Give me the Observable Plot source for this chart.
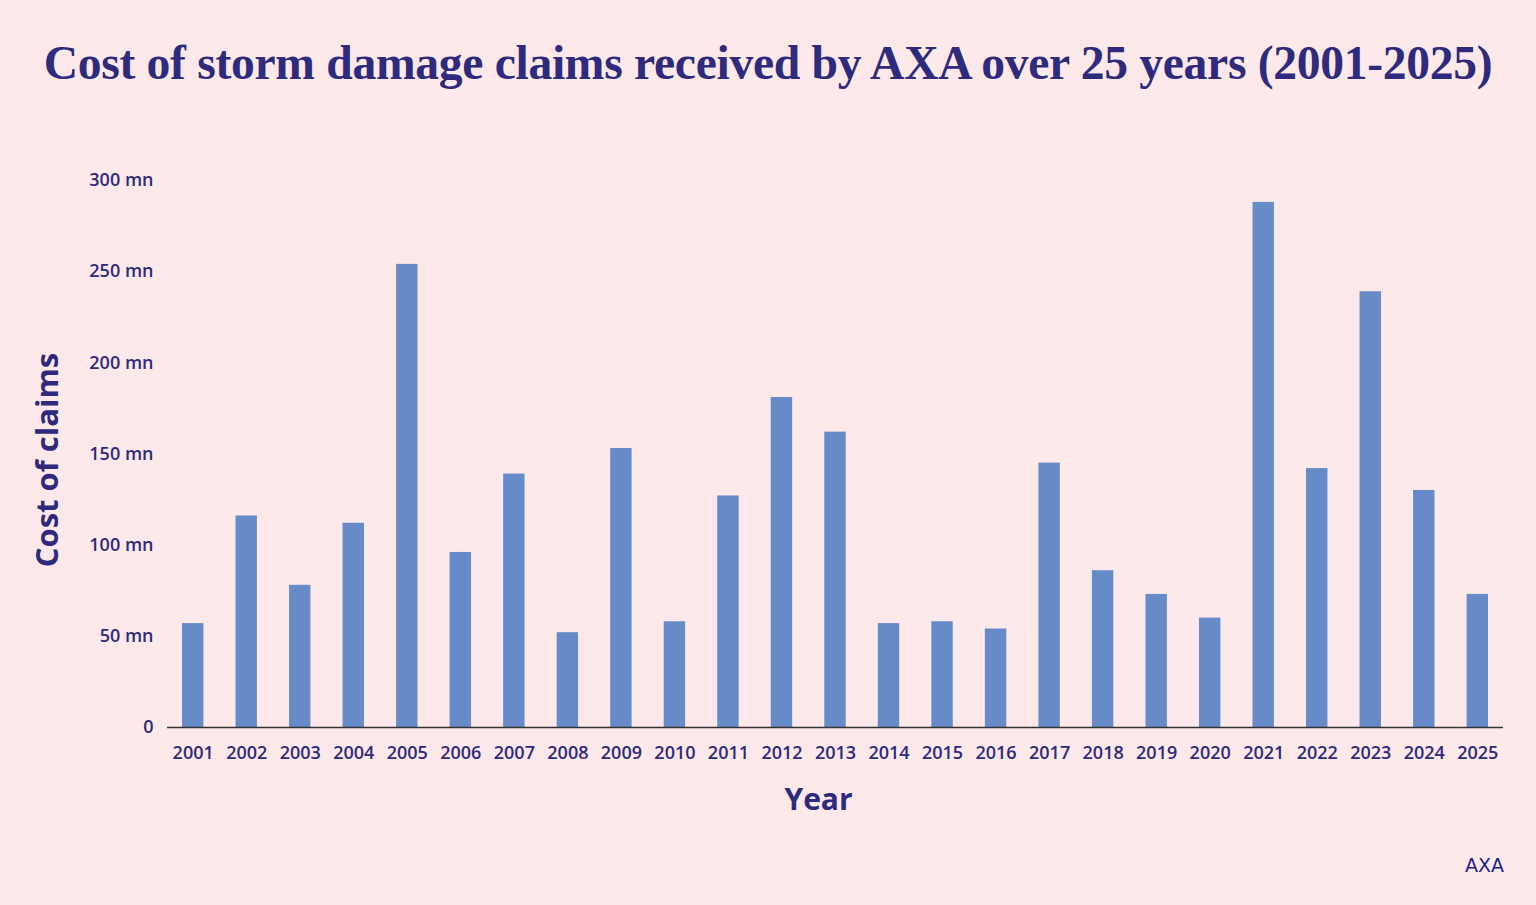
<!DOCTYPE html>
<html>
<head>
<meta charset="utf-8">
<script src="https://cdn.jsdelivr.net/npm/d3@7"></script>
<script src="https://cdn.jsdelivr.net/npm/@observablehq/plot@0.6"></script>
<style>
  html, body { margin: 0; padding: 0; background: #fde9ea; }
  #wrap { position: relative; width: 1536px; height: 905px; overflow: hidden; background: #fde9ea; }
  #title { height: 120px; box-sizing: border-box; padding-top: 38px; line-height: 50px; text-align: center;
    font-family: "Liberation Serif", serif; font-weight: 700; font-size: 47.6px; color: #2e2a7d; letter-spacing: -0.3px; white-space: nowrap; }
  #credit { position: absolute; right: 32px; top: 854px; font-family: "DejaVu Sans", sans-serif; font-size: 19px; color: #1f1d8a; }
</style>
</head>
<body>
<div id="wrap">
  <div id="title">Cost of storm damage claims received by AXA over 25 years (2001-2025)</div>
  <div id="chart"></div>
  <div id="credit">AXA</div>
</div>
<script>
const years = ["2001","2002","2003","2004","2005","2006","2007","2008","2009","2010","2011","2012","2013","2014","2015","2016","2017","2018","2019","2020","2021","2022","2023","2024","2025"];
const costs = [57, 116, 78, 112, 254, 96, 139, 52, 153, 58, 127, 181, 162, 57, 58, 54, 145, 86, 73, 60, 288, 142, 239, 130, 73];
const yTicks = [0, 50, 100, 150, 200, 250, 300];
const yTickLabels = ["0", "50 mn", "100 mn", "150 mn", "200 mn", "250 mn", "300 mn"];
const xTitle = "Year";
const yTitle = "Cost of claims";

const data = years.map((y, i) => ({year: y, cost: costs[i]}));
const ink = "#2e2a7d";
const font = "'Open Sans', sans-serif";

const chart = Plot.plot({
  width: 1536,
  height: 785,
  marginTop: 60,
  marginBottom: 178,
  marginLeft: 167,
  marginRight: 33,
  style: {background: "transparent", fontFamily: font},
  x: {domain: years, paddingInner: 0.6, paddingOuter: 0.28, round: false, label: null},
  y: {domain: [0, 300], label: null},
  marks: [
    Plot.barY(data, {x: "year", y: "cost", fill: "#678bc9"}),
    Plot.ruleY([0], {stroke: "#333", strokeWidth: 1.5}),
    Plot.axisX({tickSize: 0, tickPadding: 19, fontSize: 18, fontWeight: 600, color: ink, label: null}),
    Plot.axisY({ticks: yTicks, tickFormat: (d) => yTickLabels[yTicks.indexOf(d)], tickSize: 0, tickPadding: 14, fontSize: 18, fontWeight: 600, color: ink, label: null}),
    Plot.text([yTitle], {frameAnchor: "left", textAnchor: "middle", lineAnchor: "middle", dx: -119, dy: 6, rotate: -90, fontSize: 31, fontWeight: 700, fill: ink, fontFamily: font}),
    Plot.text([xTitle], {frameAnchor: "bottom", textAnchor: "middle", lineAnchor: "middle", dx: -17, dy: 73, fontSize: 30, fontWeight: 700, fill: ink, fontFamily: font})
  ]
});
document.getElementById("chart").appendChild(chart);
</script>
</body>
</html>
